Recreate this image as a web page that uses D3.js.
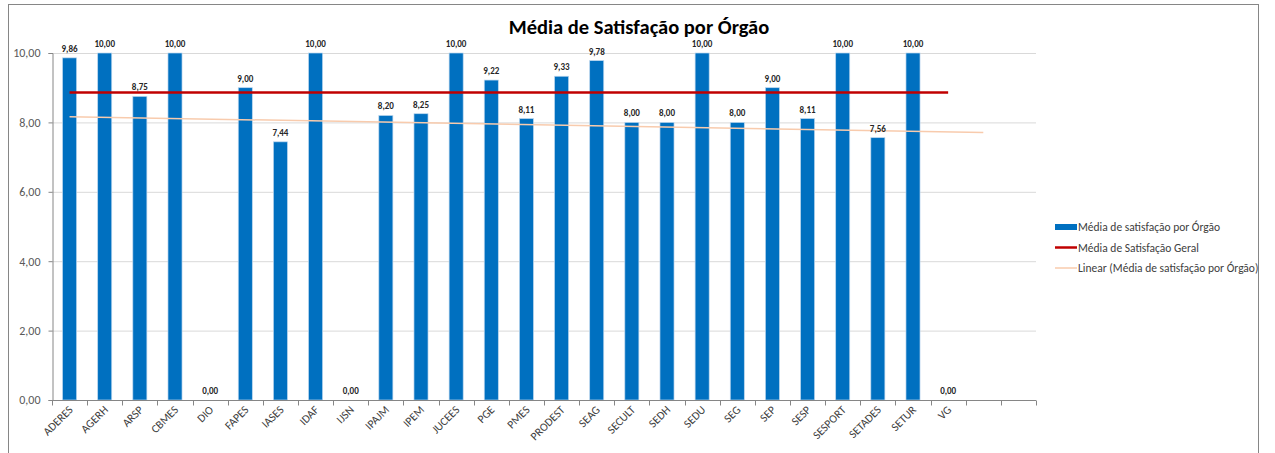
<!DOCTYPE html>
<html>
<head>
<meta charset="utf-8">
<script src="https://cdn.jsdelivr.net/npm/d3@7"></script>
<style>
  body { margin: 0; background: #fff; }
  svg { display: block; }
</style>
</head>
<body>
<main></main>
<script>
// data
const orgaos = ['ADERES', 'AGERH', 'ARSP', 'CBMES', 'DIO', 'FAPES', 'IASES', 'IDAF', 'IJSN', 'IPAJM',
  'IPEM', 'JUCEES', 'PGE', 'PMES', 'PRODEST', 'SEAG', 'SECULT', 'SEDH', 'SEDU', 'SEG', 'SEP',
  'SESP', 'SESPORT', 'SETADES', 'SETUR', 'VG'];
const mediaOrgao = [9.86, 10, 8.75, 10, 0, 9, 7.44, 10, 0, 8.2, 8.25, 10, 9.22, 8.11, 9.33, 9.78,
  8, 8, 10, 8, 9, 8.11, 10, 7.56, 10, 0];
const mediaGeral = 8.86;
const emptySlots = ['', ' '];          // two blank categories at the end of the axis
const yTicks = [0, 2, 4, 6, 8, 10];
const legendItems = ['Média de satisfação por Órgão', 'Média de Satisfação Geral', 'Linear (Média de satisfação por Órgão)'];

const W = 1275, H = 453;
const M = { left: 52, right: 1036, top: 53, bottom: 400 };
const BLUE = '#0070C0', RED = '#C00000', ORANGE = '#F8CBAD';
const FONT = 'Calibri, Carlito, "Liberation Sans", sans-serif';
const fmt = v => d3.format('.2f')(v).replace('.', ',');

const svg = d3.select('main').append('svg')
  .attr('width', W)
  .attr('height', H)
  .style('font-family', FONT);

// outer chart frame
svg.append('rect')
  .attr('x', 8.5).attr('y', 4.5)
  .attr('width', 1250).attr('height', 460)
  .attr('fill', 'none')
  .attr('stroke', '#868686');

const cats = orgaos.concat(emptySlots);
const x = d3.scaleBand().domain(cats).range([M.left, M.right]).paddingInner(0.6).paddingOuter(0.3);
const xs = d3.scaleBand().domain(cats).range([M.left, M.right]);   // full slots for ticks
const y = d3.scaleLinear().domain([0, 10]).range([M.bottom, M.top]);

// gridlines
svg.append('g')
  .selectAll('line')
  .data(yTicks.slice(1))
  .enter()
  .append('line')
  .attr('x1', M.left).attr('x2', M.right)
  .attr('y1', d => y(d) + 0.5).attr('y2', d => y(d) + 0.5)
  .attr('stroke', '#D9D9D9');

// y axis
const yAxis = svg.append('g')
  .attr('transform', `translate(${M.left + 0.5},0)`)
  .call(d3.axisLeft(y).tickValues(yTicks).tickFormat(fmt).tickSize(4).tickPadding(8));
yAxis.select('.domain').attr('stroke', '#868686');
yAxis.selectAll('.tick line').attr('stroke', '#868686');
yAxis.selectAll('text').attr('fill', '#595959').attr('font-size', 12)
  .style('font-family', FONT);

// bars
svg.append('g')
  .selectAll('rect')
  .data(orgaos)
  .enter()
  .append('rect')
  .attr('x', d => x(d))
  .attr('y', (d, i) => y(mediaOrgao[i]))
  .attr('width', x.bandwidth())
  .attr('height', (d, i) => y(0) - y(mediaOrgao[i]))
  .attr('fill', BLUE)
  .attr('stroke', '#BDD7EE')
  .attr('stroke-width', 0.7);

// x axis
const xAxis = svg.append('g')
  .attr('transform', `translate(0,${M.bottom + 0.5})`);
xAxis.append('line')
  .attr('x1', M.left).attr('x2', M.right)
  .attr('stroke', '#868686');
xAxis.selectAll('line.tick')
  .data(cats.concat(['__end']))
  .enter()
  .append('line')
  .attr('class', 'tick')
  .attr('x1', (d, i) => Math.round(M.left + i * xs.step()) + 0.5)
  .attr('x2', (d, i) => Math.round(M.left + i * xs.step()) + 0.5)
  .attr('y1', 0).attr('y2', 5)
  .attr('stroke', '#868686');
xAxis.selectAll('text')
  .data(orgaos)
  .enter()
  .append('text')
  .attr('transform', d => `translate(${xs(d) + xs.bandwidth() / 2 + 4},${10}) rotate(-45)`)
  .attr('text-anchor', 'end')
  .attr('fill', '#404040')
  .attr('font-size', 11.5)
  .text(d => d);

// trendline (least squares over the bars, forecast one period forward)
const n = mediaOrgao.length;
const xi = d3.range(1, n + 1);
const mx = d3.mean(xi), my = d3.mean(mediaOrgao);
const slope = d3.sum(xi, (v, i) => (v - mx) * (mediaOrgao[i] - my)) / d3.sum(xi, v => (v - mx) * (v - mx));
const icpt = my - slope * mx;
const cx = i => xs(cats[i - 1]) + xs.bandwidth() / 2;
svg.append('line')
  .attr('x1', cx(1)).attr('x2', cx(n + 1))
  .attr('y1', y(icpt + slope * 1)).attr('y2', y(icpt + slope * (n + 1)))
  .attr('stroke', ORANGE)
  .attr('stroke-width', 1.5);

// overall average
svg.append('line')
  .attr('x1', cx(1)).attr('x2', cx(n))
  .attr('y1', y(mediaGeral)).attr('y2', y(mediaGeral))
  .attr('stroke', RED)
  .attr('stroke-width', 2.5);

// data labels
svg.append('g')
  .selectAll('text')
  .data(orgaos)
  .enter()
  .append('text')
  .attr('x', d => x(d) + x.bandwidth() / 2)
  .attr('y', (d, i) => y(mediaOrgao[i]) - 6)
  .attr('text-anchor', 'middle')
  .attr('fill', '#262626')
  .attr('font-size', 9)
  .attr('font-weight', 'bold')
  .text((d, i) => fmt(mediaOrgao[i]));

// title
svg.append('text')
  .attr('x', 639).attr('y', 34)
  .attr('text-anchor', 'middle')
  .attr('font-size', 20.5)
  .attr('font-weight', 'bold')
  .attr('fill', '#000')
  .text('Média de Satisfação por Órgão');

// legend
const lg = svg.append('g').attr('transform', 'translate(1055,227)');
const rows = lg.selectAll('g')
  .data(legendItems)
  .enter()
  .append('g')
  .attr('transform', (d, i) => `translate(0,${i * 20.5})`);
rows.append('line')
  .attr('x1', 0).attr('x2', 22)
  .attr('stroke', (d, i) => [BLUE, RED, ORANGE][i])
  .attr('stroke-width', (d, i) => [6, 2.5, 1.5][i]);
rows.append('text')
  .attr('x', 23).attr('y', 4)
  .attr('fill', '#404040')
  .attr('font-size', 11.5)
  .text(d => d);
</script>
</body>
</html>
